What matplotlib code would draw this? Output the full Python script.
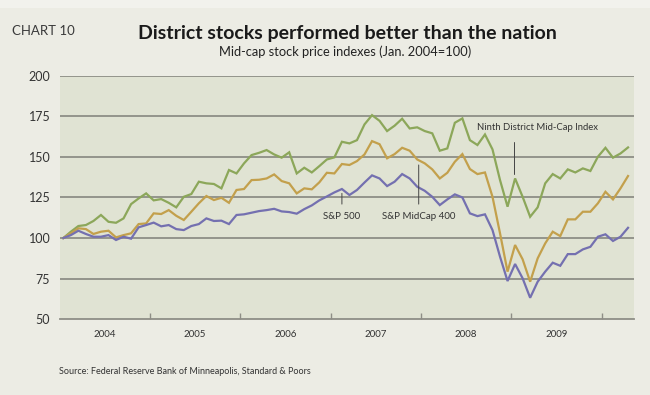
import matplotlib.pyplot as plt
import numpy as np

# Monthly index values, Jan 2004 .. Apr 2010 (Jan 2004 = 100)
ninth_district = [
    100.0, 103.9, 107.4, 108.0, 110.5, 114.2, 110.0, 109.4, 112.1, 120.9, 124.4, 127.5,   # 2004
    123.2, 124.0, 121.7, 118.9, 125.4, 127.1, 134.7, 133.7, 133.3, 130.6, 141.9, 139.8,   # 2005
    146.0, 151.1, 152.5, 154.2, 151.5, 149.5, 152.8, 139.8, 143.3, 140.4, 144.3, 148.4,   # 2006
    149.7, 159.3, 158.3, 160.3, 170.0, 175.7, 172.2, 165.9, 169.2, 173.5, 167.5, 168.2,   # 2007
    165.9, 164.5, 153.8, 155.2, 171.0, 173.7, 160.3, 157.3, 163.8, 154.6, 135.7, 119.3,   # 2008
    136.7, 125.4, 113.1, 118.9, 133.7, 139.4, 136.7, 142.3, 140.4, 142.9, 141.3, 150.1,   # 2009
    155.6, 149.5, 152.1, 155.8,                                                           # 2010
]
midcap_400 = [
    100.0, 102.9, 106.0, 105.5, 102.5, 103.9, 104.5, 100.4, 101.8, 102.9, 108.6, 109.0,
    115.2, 114.8, 117.2, 113.7, 111.1, 116.2, 121.4, 125.9, 123.4, 124.8, 121.7, 129.6,
    130.2, 135.7, 135.9, 136.7, 139.2, 135.1, 133.7, 127.5, 130.6, 130.0, 134.3, 140.2,
    139.8, 145.6, 145.0, 147.4, 151.5, 159.7, 157.8, 149.1, 151.7, 155.6, 153.8, 148.4,
    146.0, 142.3, 136.7, 140.2, 147.0, 151.7, 142.5, 139.4, 140.4, 125.4, 102.9, 79.3,
    95.7, 86.9, 73.1, 87.5, 96.7, 103.9, 101.2, 111.5, 111.5, 116.2, 116.2, 121.4,
    128.5, 123.8, 130.6, 138.2,
]
sp_500 = [
    100.0, 101.8, 104.5, 102.5, 100.8, 100.8, 101.8, 98.8, 100.8, 99.6, 106.6, 108.0,
    109.5, 107.2, 108.0, 105.5, 104.9, 107.4, 108.6, 112.1, 110.5, 110.7, 108.6, 114.2,
    114.6, 115.6, 116.6, 117.2, 118.0, 116.4, 116.0, 115.0, 117.8, 120.1, 123.2, 125.6,
    128.1, 130.2, 126.5, 129.6, 134.2, 138.6, 136.7, 132.0, 134.7, 139.4, 136.7, 131.6,
    129.1, 125.4, 120.3, 123.8, 126.9, 125.0, 115.2, 113.5, 114.6, 104.9, 88.5, 73.5,
    84.0, 75.2, 63.2, 73.1, 79.3, 84.8, 82.9, 90.1, 90.1, 93.0, 94.6, 100.8,
    102.3, 98.2, 100.8, 106.3,
]
years = ["2004", "2005", "2006", "2007", "2008", "2009"]
y_ticks = [50, 75, 100, 125, 150, 175, 200]

GREEN = "#8ca75a"
GOLD = "#c3a04c"
PURPLE = "#7470b0"
GRID = "#8e8e86"
TEXT = "#333333"
FONT = "Lato"

fig = plt.figure(figsize=(6.5, 3.95), dpi=100)
fig.patch.set_facecolor("#ecece4")
# lighter strip along the top edge of the panel
fig.patches.append(plt.Rectangle((0, 1 - 8 / 395), 1, 8 / 395, transform=fig.transFigure,
                                 facecolor="#f2f2ed", edgecolor="none", zorder=0))

ax = fig.add_axes([60 / 650, 1 - 319.2 / 395, 573.6 / 650, 243.5 / 395])
ax.set_facecolor("#e0e3d3")

months = np.arange(len(sp_500))
ax.plot(months, ninth_district, color=GREEN, lw=1.6, solid_joinstyle="miter", zorder=3)
ax.plot(months, midcap_400, color=GOLD, lw=1.6, solid_joinstyle="miter", zorder=3)
ax.plot(months, sp_500, color=PURPLE, lw=1.6, solid_joinstyle="miter", zorder=3)

ax.set_xlim(-0.44, 75.74)
ax.set_ylim(50, 200)
for v in y_ticks[1:]:
    ax.axhline(v, color=GRID, lw=1.3, zorder=1)

for side in ["left", "right", "top"]:
    ax.spines[side].set_visible(False)
ax.spines["bottom"].set_color(GRID)
ax.spines["bottom"].set_linewidth(1.3)

ax.set_yticks(y_ticks)
ax.set_yticklabels([str(v) for v in y_ticks], fontsize=9, color=TEXT, family=FONT)
ax.tick_params(axis="y", length=0, pad=7)

# year boundaries as ticks, year names centred between them
ax.set_xticks([12 * i + 11.5 for i in range(len(years))])
ax.set_xticklabels([])
ax.tick_params(axis="x", which="major", direction="in", length=4, width=1, color=GRID)
ax.set_xticks([12 * i + 5.5 for i in range(len(years))], minor=True)
ax.set_xticklabels(years, minor=True, fontsize=7, color=TEXT, family=FONT)
ax.tick_params(axis="x", which="minor", length=0, pad=8)

# series labels with pointer lines
arrow = dict(arrowstyle="-", color="#444444", lw=0.7, shrinkA=4, shrinkB=0)
ax.annotate("S&P 500", xy=(37, 127.5), xytext=(37, 113), ha="center", va="center",
            fontsize=7, color=TEXT, family=FONT, arrowprops=arrow)
ax.annotate("S&P MidCap 400", xy=(47.2, 145), xytext=(47.2, 113), ha="center", va="center",
            fontsize=7, color=TEXT, family=FONT, arrowprops=arrow)
ax.annotate("Ninth District Mid-Cap Index", xy=(59.9, 139.2), xytext=(63, 168),
            ha="center", va="center", fontsize=6.8, color=TEXT, family=FONT,
            arrowprops=dict(arrowstyle="-", color="#444444", lw=0.7, shrinkA=5, shrinkB=0,
                            connectionstyle="angle,angleA=0,angleB=90,rad=0"))

fig.text(12 / 650, 1 - 31 / 395, "CHART 10", fontsize=9.5, color="#3a3a3a", family=FONT,
         ha="left", va="center")
fig.text(347 / 650, 1 - 33 / 395, "District stocks performed better than the nation",
         fontsize=14, fontweight="bold", color="#1a1a1a", family=FONT, ha="center", va="center")
fig.text(345 / 650, 1 - 52 / 395, "Mid-cap stock price indexes (Jan. 2004=100)",
         fontsize=9.3, color="#222222", family=FONT, ha="center", va="center")
fig.text(59 / 650, 1 - 372 / 395, "Source: Federal Reserve Bank of Minneapolis, Standard & Poors",
         fontsize=6.5, color=TEXT, family=FONT, ha="left", va="center")

fig.savefig("out.png", dpi=100, facecolor=fig.get_facecolor())
